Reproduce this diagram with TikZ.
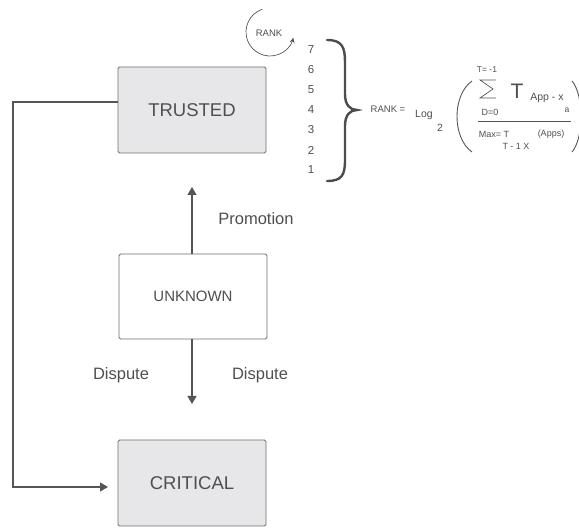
\documentclass[tikz,border=0pt]{standalone}
\usepackage{fontspec}
\setmainfont{Liberation Sans}
\usetikzlibrary{arrows.meta}
\definecolor{boxfill}{HTML}{E7E7E9}
\definecolor{linecol}{HTML}{555555}
\definecolor{txtcol}{HTML}{4F4F4F}
\tikzset{
  statebox/.style={draw=linecol!85, line width=0.9pt, rounded corners=1.5pt, minimum width=148pt, inner sep=0pt, text=txtcol},
  conn/.style={draw=linecol, line width=1.3pt},
  arr/.style={conn, -{Triangle[width=9pt,length=8pt]}},
  lbl/.style={text=txtcol, inner sep=0pt},
}
\begin{document}
\begin{tikzpicture}[x=1pt,y=-1pt]
\useasboundingbox (0,0) rectangle (579,529);
% boxes
\node[statebox, fill=boxfill, minimum height=86pt, font=\fontsize{18.5}{21}\selectfont] (T) at (192,110) {TRUSTED};
\node[statebox, fill=white, minimum height=85pt, font=\fontsize{15}{18}\selectfont] (U) at (193,296.5) {UNKNOWN};
\node[statebox, fill=boxfill, minimum height=86pt, font=\fontsize{18.5}{21}\selectfont] (C) at (192,483) {CRITICAL};
% free ends
\coordinate (pt) at (192,187);
\coordinate (dt) at (192,404);
\coordinate (lt) at (13,102);
\coordinate (lb) at (13,487);
\coordinate (ct) at (108,487);
% connectors
\draw[arr] (U.north -| pt) -- (pt);
\draw[arr] (U.south -| dt) -- (dt);
\draw[arr] (T.west |- lt) -- (lt) -- (lb) -- (ct);
% labels
\node[lbl, font=\fontsize{16.5}{19}\selectfont] (prom) at (256,219) {Promotion};
\node[lbl, font=\fontsize{16.5}{19}\selectfont] (d1) at (121,375) {Dispute};
\node[lbl, font=\fontsize{16.5}{19}\selectfont] (d2) at (260,375) {Dispute};
% rank loop
\node[lbl, font=\fontsize{9.5}{11}\selectfont] (rk) at (269,33) {RANK};
\draw[line width=0.7pt, draw=linecol, -{Stealth[width=5pt,length=5pt]}] (270,32) ++(251:24) arc[start angle=251, end angle=14, radius=24];
% numbers
\foreach \n/\y in {7/50,6/70,5/90,4/110,3/130,2/150,1/170}{
  \node[lbl, font=\fontsize{11.5}{13}\selectfont] (n\n) at (311,\y) {\n};
}
% brace
\draw[draw=linecol!90!black, line width=2.4pt, line cap=round]
  (327,40) .. controls (342,40) and (345,47) .. (345,62) -- (345,94)
  .. controls (345,105) and (350,110) .. (357,110)
  .. controls (350,110) and (345,115) .. (345,126) -- (345,160)
  .. controls (345,175) and (342,181) .. (327,181);
% formula
\node[lbl, font=\fontsize{9.5}{11}\selectfont] (rankeq) at (388,109) {RANK =};
\node[lbl, font=\fontsize{10.5}{12}\selectfont] (log) at (424,115) {Log};
\node[lbl, font=\fontsize{10.5}{12}\selectfont] (two) at (440,128) {2};
\draw[draw=linecol, line width=0.9pt] (472,81) .. controls (452,95) and (452,138) .. (472,152);
\draw[draw=linecol, line width=0.9pt] (572,81) .. controls (584,95) and (584,138) .. (572,152);
\node[lbl, font=\fontsize{8.5}{10}\selectfont] (tm1) at (487,70) {T= -1};
\draw[draw=linecol, line width=0.7pt] (496,80) -- (480,80) -- (493,89) -- (480,98) -- (496,98);
\node[lbl, font=\fontsize{21}{24}\selectfont] (bigT) at (517,91) {T};
\node[lbl, font=\fontsize{10.5}{12}\selectfont] (appx) at (547,98) {App - x};
\node[lbl, font=\fontsize{8.5}{10}\selectfont] (asub) at (567,110) {a};
\node[lbl, font=\fontsize{9}{10}\selectfont] (d0) at (490,112) {D=0};
\draw[draw=linecol, line width=0.8pt] (478,121) -- (571,121);
\node[lbl, font=\fontsize{9}{10}\selectfont] (maxT) at (494,134) {Max= T};
\node[lbl, font=\fontsize{9}{10}\selectfont] (apps) at (551,134) {(Apps)};
\node[lbl, font=\fontsize{9}{10}\selectfont] (t1x) at (516,146) {T - 1 X};
\end{tikzpicture}
\end{document}
